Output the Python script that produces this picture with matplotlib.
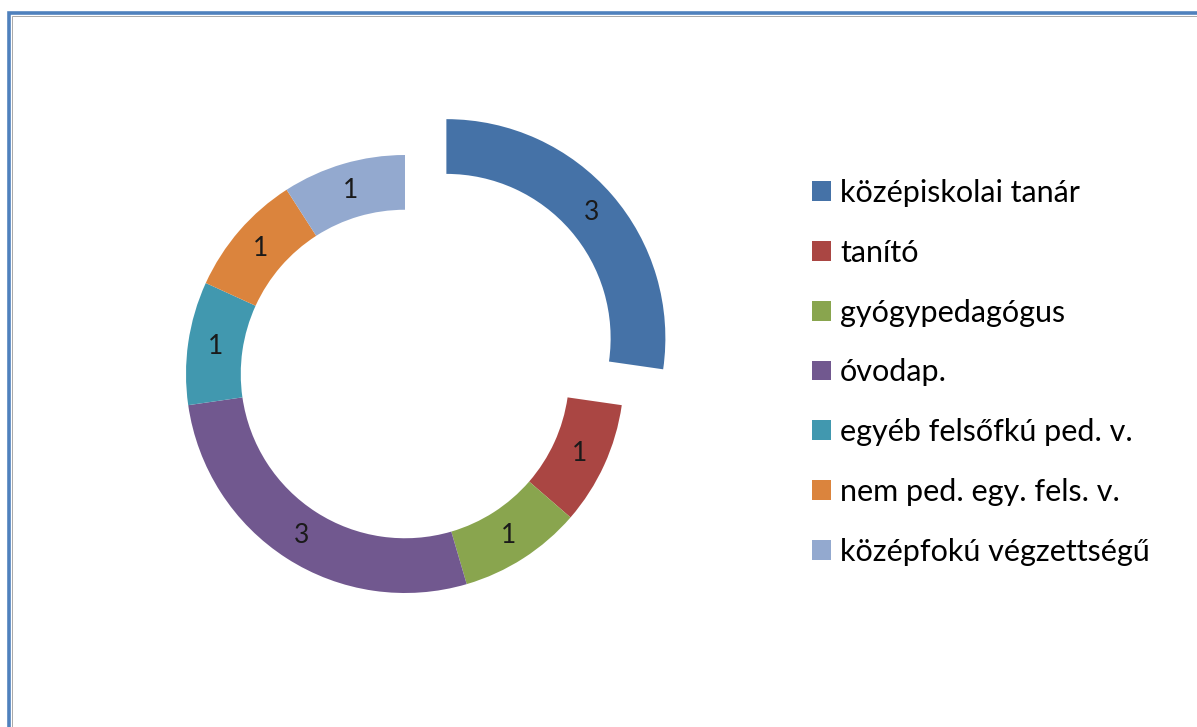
import matplotlib.pyplot as plt
from matplotlib.patches import Rectangle

plt.rcParams['font.family'] = ['Lato', 'DejaVu Sans']

# adatok
kategoriak = ['középiskolai tanár', 'tanító', 'gyógypedagógus', 'óvodap.',
              'egyéb felsőfkú ped. v.', 'nem ped. egy. fels. v.', 'középfokú végzettségű']
ertekek = [3, 1, 1, 3, 1, 1, 1]
szinek = ['#4572A7', '#AA4643', '#89A54E', '#71588F', '#4198AF', '#DB843D', '#93A9CF']
kiemeles = [0.25, 0, 0, 0, 0, 0, 0]

W, H = 1197, 727
fig = plt.figure(figsize=(W / 100, H / 100), dpi=100)

# keret (kék vonal bal és felső oldalon)
fig.add_artist(Rectangle((9 / W, -0.1), 1.2, (H - 13) / H + 0.1, transform=fig.transFigure,
                         fill=False, edgecolor='#4F81BD', linewidth=2.6))
fig.add_artist(Rectangle((11.5 / W, -0.1), 1.2, (H - 15.5) / H + 0.1, transform=fig.transFigure,
                         fill=False, edgecolor='#9a9a9a', linewidth=0.6))

# a fánk középpontja és sugara pixelben
cx, cy, R = 405, H - 374, 219
half = 300
ax = fig.add_axes([(cx - half) / W, (cy - half) / H, 2 * half / W, 2 * half / H])
ax.set_aspect('equal')
ax.axis('off')

ossz = sum(ertekek)
wedges, texts, autotexts = ax.pie(
    ertekek, colors=szinek, explode=kiemeles, startangle=90, counterclock=False,
    radius=1, wedgeprops=dict(width=0.25, linewidth=0),
    autopct=lambda p: f'{round(p * ossz / 100):d}', pctdistance=0.875,
    textprops=dict(fontsize=19, color='#1a1a1a'))
ax.set_xlim(-half / R, half / R)
ax.set_ylim(-half / R, half / R)

# jelmagyarázat
leg = fig.legend(wedges, kategoriak, loc='upper left', bbox_to_anchor=(812 / W, 1 - 179 / H),
                 frameon=False, fontsize=22, handlelength=0.62, handleheight=0.62,
                 handletextpad=0.3, labelspacing=1.04, borderaxespad=0, borderpad=0)

fig.savefig('out.png', dpi=100)
